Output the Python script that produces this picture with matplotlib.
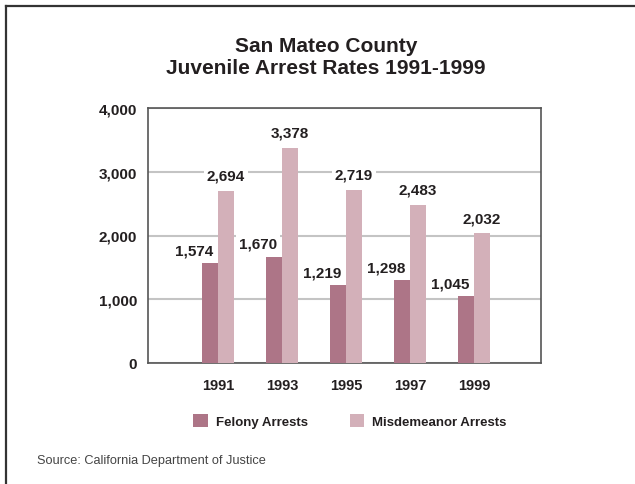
import matplotlib
matplotlib.use("Agg")
import matplotlib.pyplot as plt
from matplotlib.lines import Line2D
from matplotlib.patches import Patch
import numpy as np

plt.rcParams["font.family"] = ["Liberation Sans", "DejaVu Sans"]

years = ["1991", "1993", "1995", "1997", "1999"]
felony = [1574, 1670, 1219, 1298, 1045]
misdemeanor = [2694, 3378, 2719, 2483, 2032]
y_ticks = [0, 1000, 2000, 3000, 4000]

FELONY_COLOR = "#ad7587"
MISD_COLOR = "#d3b0b9"
TEXT_COLOR = "#231f20"

W, H = 635, 485
fig = plt.figure(figsize=(W / 100, H / 100), dpi=100)
ax = fig.add_axes([148 / W, 1 - 364 / H, 393 / W, 255 / H])

x = np.arange(len(years))
bw = 0.25
ax.bar(x - bw / 2, felony, width=bw, color=FELONY_COLOR, zorder=3)
ax.bar(x + bw / 2, misdemeanor, width=bw, color=MISD_COLOR, zorder=3)

# labels sit under the bars but over the grid, so the white box only breaks gridlines
lbl_kw = dict(fontsize=11, fontweight="bold", color=TEXT_COLOR, zorder=2.5,
              bbox=dict(facecolor="white", edgecolor="none", pad=2))
for i in range(len(years)):
    ax.annotate(f"{felony[i]:,}", (x[i] - 0.08, felony[i]), xytext=(0, 4),
                textcoords="offset points", ha="right", va="bottom", **lbl_kw)
    ax.annotate(f"{misdemeanor[i]:,}", (x[i] + bw / 2, misdemeanor[i]), xytext=(0, 6),
                textcoords="offset points", ha="center", va="bottom", **lbl_kw)

ax.set_xlim((148 - 218) / 64, (541 - 218) / 64)
ax.set_ylim(0, 4000)
ax.set_yticks(y_ticks)
ax.set_yticklabels([f"{v:,}" for v in y_ticks])
ax.set_xticks(x)
ax.set_xticklabels(years)
ax.tick_params(length=0, labelcolor=TEXT_COLOR)
ax.tick_params(axis="y", pad=8, labelsize=11)
ax.tick_params(axis="x", pad=11, labelsize=10.5)
for lab in ax.get_xticklabels() + ax.get_yticklabels():
    lab.set_fontweight("bold")

ax.yaxis.grid(True, color="#c4c4c4", linewidth=1.5, zorder=0)
ax.set_axisbelow(True)
for sp in ax.spines.values():
    sp.set_color("#555555")
    sp.set_linewidth(1.2)

fig.text(326 / W, 1 - 57 / H, "San Mateo County\nJuvenile Arrest Rates 1991-1999",
         ha="center", va="center", fontsize=15, fontweight="bold",
         color=TEXT_COLOR, linespacing=1.2)

handles = [Patch(facecolor=FELONY_COLOR, edgecolor="none", label="Felony Arrests"),
           Patch(facecolor=MISD_COLOR, edgecolor="none", label="Misdemeanor Arrests")]
leg = fig.legend(handles=handles, loc="center", bbox_to_anchor=(350 / W, 1 - 422 / H),
                 ncol=2, frameon=False, handlelength=1.1, handleheight=1.1,
                 handletextpad=0.6, columnspacing=3.2,
                 prop=dict(size=9.5, weight="bold"))
for t in leg.get_texts():
    t.set_color(TEXT_COLOR)

fig.text(37 / W, 1 - 461 / H, "Source: California Department of Justice",
         ha="left", va="center", fontsize=9.2, color="#444444")

# partial outer frame (top and left edges only)
fig.add_artist(Line2D([6 / W, 1], [1 - 7 / H, 1 - 7 / H], color="#333333", linewidth=1.6))
fig.add_artist(Line2D([6 / W, 6 / W], [0, 1 - 7 / H], color="#333333", linewidth=1.6))

fig.savefig("out.png", dpi=100)
